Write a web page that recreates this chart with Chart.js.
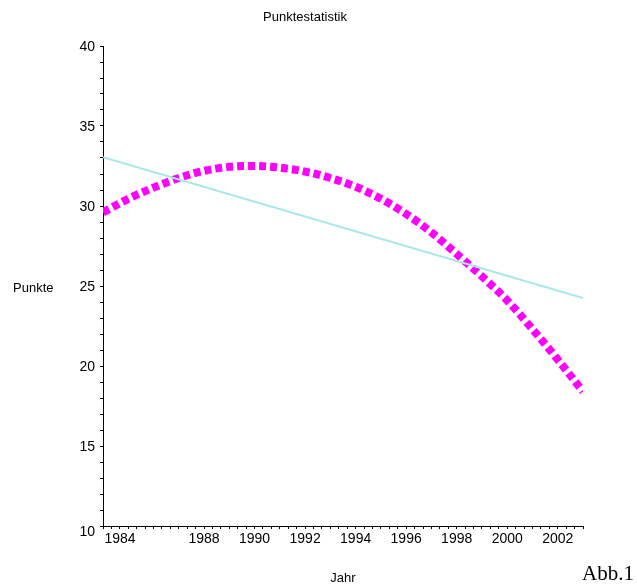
<!DOCTYPE html>
<html>
<head>
<meta charset="utf-8">
<script src="https://cdn.jsdelivr.net/npm/chart.js@4.4.1/dist/chart.umd.min.js"></script>
<style>
  html, body { margin: 0; padding: 0; background: #fff; }
</style>
</head>
<body>
<canvas id="punkte_chart" width="637" height="587"></canvas>
<script>
// values
const jahre = [1984, 1985, 1986, 1987, 1988, 1989, 1990, 1991, 1992, 1993,
               1994, 1995, 1996, 1997, 1998, 1999, 2000, 2001, 2002, 2003];
const punkte = [29.6, 30.45, 31.15, 31.75, 32.2, 32.45, 32.5, 32.4, 32.15, 31.75,
                31.2, 30.45, 29.5, 28.35, 27.0, 25.6, 24.1, 22.3, 20.4, 18.4];
const trend_jahre = [1984, 2003];
const trend_punkte = [33.05, 24.25];
const x_tick_labels = [1984, 1988, 1990, 1992, 1994, 1996, 1998, 2000, 2002];
const y_tick_labels = [10, 15, 20, 25, 30, 35, 40];

const punkte_chart = document.getElementById("punkte_chart").getContext("2d");

const text_plugin = {
    id: "maple_text",
    afterDraw: function (chart) {
        const ctx = chart.ctx;
        const x_scale = chart.scales.x;
        const y_scale = chart.scales.y;
        ctx.save();
        ctx.fillStyle = "#000";

        ctx.font = "14px 'Liberation Sans', Arial, sans-serif";
        ctx.textAlign = "right";
        ctx.textBaseline = "middle";
        y_tick_labels.forEach(function (v) {
            let py = y_scale.getPixelForValue(v) + 1;
            if (v === 10) py += 5;
            ctx.fillText(String(v), 95, py);
        });

        ctx.textAlign = "center";
        ctx.textBaseline = "middle";
        x_tick_labels.forEach(function (v) {
            let px = x_scale.getPixelForValue(v);
            if (v === 1984) px += 17;  // pushed right, away from the "10"
            ctx.fillText(String(v), px, 539);
        });

        ctx.font = "13px 'Liberation Sans', Arial, sans-serif";
        ctx.fillText("Punktestatistik", 305, 17);
        ctx.fillText("Jahr", 343, 578);
        ctx.textAlign = "left";
        ctx.fillText("Punkte", 13, 288);

        ctx.font = "21px 'Liberation Serif', 'Times New Roman', serif";
        ctx.textBaseline = "alphabetic";
        ctx.fillText("Abb.1", 582, 580);
        ctx.restore();
    }
};

new Chart(punkte_chart, {
    "type": "line",
    "data": {
        "datasets": [{
            "label": "Trend",
            "data": trend_jahre.map(function (j, i) { return {"x": j, "y": trend_punkte[i]}; }),
            "borderColor": "rgb(168, 232, 232)",
            "borderWidth": 2,
            "pointRadius": 0,
            "fill": false
        }, {
            "label": "Punkte",
            "data": jahre.map(function (j, i) { return {"x": j, "y": punkte[i]}; }),
            "borderColor": "rgb(255, 0, 255)",
            "borderWidth": 8,
            "borderDash": [7, 4],
            "borderCapStyle": "butt",
            "pointRadius": 0,
            "cubicInterpolationMode": "monotone",
            "fill": false
        }]
    },
    "options": {
        "responsive": false,
        "animation": false,
        "devicePixelRatio": 1,
        "layout": {"padding": {"left": 100, "right": 54, "top": 46, "bottom": 58}},
        "plugins": {
            "legend": {"display": false},
            "tooltip": {"enabled": false},
            "title": {"display": false}
        },
        "scales": {
            "x": {
                "type": "linear",
                "min": 1984,
                "max": 2003,
                "afterBuildTicks": function (scale) {
                    // minor ticks every third of a year
                    let t = [];
                    for (let i = 0; i <= 57; i++) t.push({"value": 1984 + i / 3});
                    scale.ticks = t;
                },
                "ticks": {"display": false},
                "grid": {"drawOnChartArea": false, "drawTicks": true, "tickLength": 3, "color": "#000", "lineWidth": 1},
                "border": {"display": true, "color": "#000", "width": 1}
            },
            "y": {
                "type": "linear",
                "min": 10,
                "max": 40,
                "ticks": {"display": false, "stepSize": 1},
                "grid": {"drawOnChartArea": false, "drawTicks": true, "tickLength": 3, "color": "#000", "lineWidth": 1},
                "border": {"display": true, "color": "#000", "width": 1}
            }
        }
    },
    "plugins": [text_plugin]
});
</script>
</body>
</html>
